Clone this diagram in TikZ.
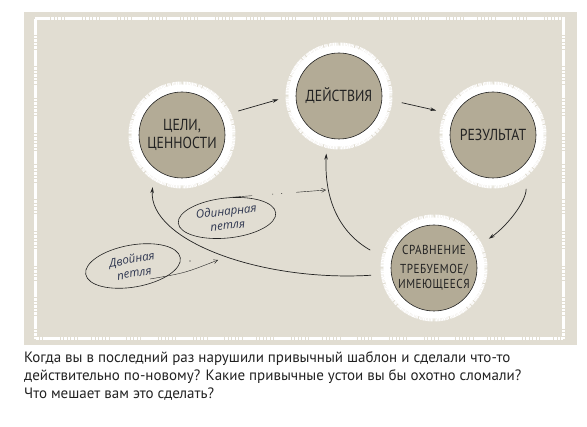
\documentclass[tikz,border=0pt]{standalone}
\usepackage{fontspec}
\setmainfont{PT Sans}
\newfontfamily\narrowfont{PT Sans}[FakeStretch=0.86]
\newfontfamily\handfont{Open Sans}
\usetikzlibrary{arrows.meta,shapes.geometric,calc}
\definecolor{panel}{HTML}{E1DDD2}
\definecolor{disc}{HTML}{B3AB96}
\definecolor{ink}{HTML}{222222}
\definecolor{pen}{HTML}{2E3650}
\tikzset{
  stage/.style={circle,minimum size=86pt,inner sep=0pt,fill=disc,draw=ink,line width=0.6pt,
    text=ink,align=center,font=\narrowfont\fontsize{16}{18}\selectfont,
    preaction={draw=white,line width=21pt,dash pattern=on 0.8pt off 0.5pt},
    preaction={draw=white,line width=15pt}},
  arr/.style={-{Stealth[length=6pt,width=3.5pt]},line width=0.7pt,ink},
  loopnote/.style={ellipse,draw=ink,line width=0.6pt,inner sep=0pt,text=pen,align=center,
    font=\handfont\itshape\fontsize{11.5}{14}\selectfont},
  penarr/.style={-{Straight Barb[length=4pt,width=4pt]},line width=0.4pt,ink}
}
\begin{document}
\begin{tikzpicture}[x=1pt,y=-1pt]
  \useasboundingbox (0,0) rectangle (587,427);
  \fill[panel] (24,12) rectangle (577,345);
  \draw[white,line width=3pt,dash pattern=on 0.5pt off 0.9pt] (35,19) rectangle (563,339);
  \draw[white,line width=3pt,dash pattern=on 13pt off 20pt] (35,19) rectangle (563,339);
  \node[stage] (goal) at (182,135) {ЦЕЛИ,\\ЦЕННОСТИ};
  \node[stage] (act) at (339,96) {ДЕЙСТВИЯ};
  \node[stage] (res) at (493,135) {РЕЗУЛЬТАТ};
  \node[stage,font=\narrowfont\fontsize{13}{15}\selectfont\addfontfeature{LetterSpace=4}] (cmp) at (434,268)
    {СРАВНЕНИЕ\\[4pt]ТРЕБУЕМОЕ/\\ИМЕЮЩЕЕСЯ};
  \draw[arr,shorten <=18pt,shorten >=18pt] (goal.26) -- (act.178);
  \draw[arr,shorten <=20pt,shorten >=19pt] (act.-3) -- (res.152);
  \draw[arr,shorten <=26pt,shorten >=19pt] (res.-40) to[out=-90,in=35] (cmp.25);
  \draw[arr,shorten <=24pt,shorten >=16pt] (cmp.172) .. controls +(-51,-29) and +(-3,63) .. (act.-106);
  \draw[arr,shorten <=20pt,shorten >=19pt] (cmp.188) .. controls +(-131,8) and +(-6,72) .. (goal.-130);
  \node[loopnote,minimum width=98pt,minimum height=40pt,rotate=6] (single) at (227,218) {Одинарная\\петля};
  \node[loopnote,minimum width=96pt,minimum height=42pt,rotate=10] (twin) at (133,266) {Двойная\\петля};
  \coordinate (singletip) at (326,190);
  \coordinate (twintip) at (218,260);
  \draw[penarr,dash pattern=on 22pt off 20pt on 1pt off 8pt on 1pt off 14pt on 40pt] (single.75) -- (singletip);
  \draw[penarr] ($(twin)+(17,13)$) .. controls (185,273) .. (twintip);
  \fill[ink] (190,261) circle (0.6);
  \node[anchor=north west,align=left,inner sep=0pt,text=ink,font=\fontsize{15}{18}\selectfont] (caption) at (24,351)
    {Когда вы в последний раз нарушили привычный шаблон и сделали что-то\\
     действительно по-новому? Какие привычные устои вы бы охотно сломали?\\
     Что мешает вам это сделать?};
\end{tikzpicture}
\end{document}
